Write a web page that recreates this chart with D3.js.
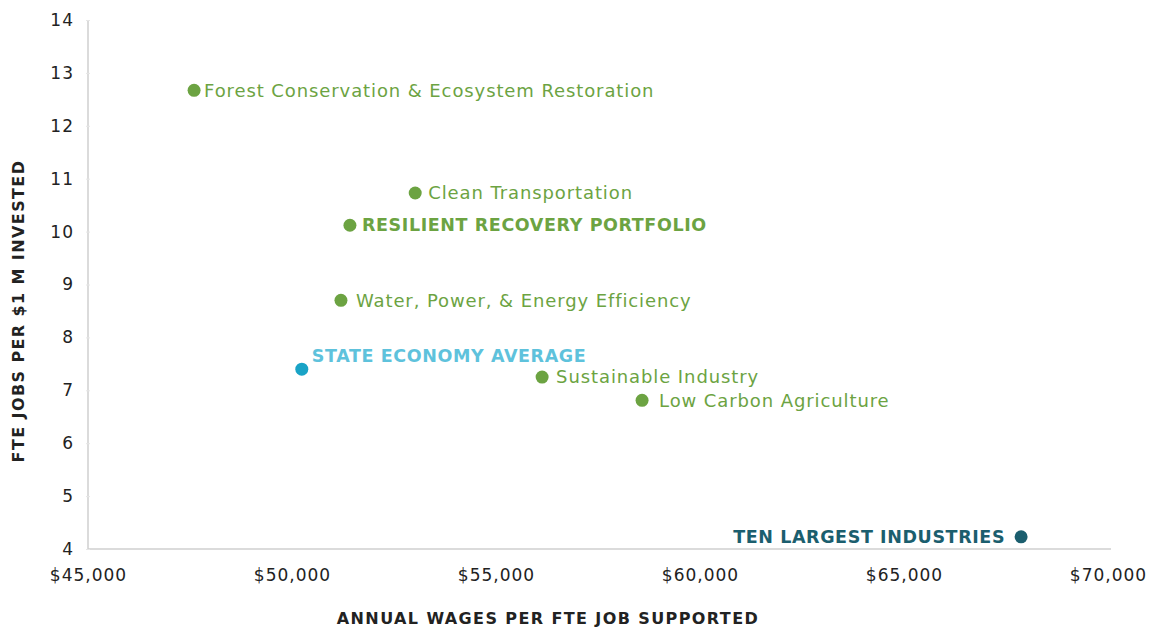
<!DOCTYPE html>
<html>
<head>
<meta charset="utf-8">
<script src="https://cdn.jsdelivr.net/npm/d3@7"></script>
<style>
    body { margin: 0; background: #fff; }
    svg text { font-family: "DejaVu Sans", "Noto Sans", sans-serif; }
    .tick text { font-size: 17px; fill: #222; letter-spacing: 1px; }
    .axis-title { font-size: 16px; font-weight: bold; fill: #222; letter-spacing: 1.4px; }
</style>
</head>
<body>
<svg id="chart" width="1151" height="629"></svg>
<script>
// data
var names = [
    "Forest Conservation & Ecosystem Restoration",
    "Clean Transportation",
    "RESILIENT RECOVERY PORTFOLIO",
    "Water, Power, & Energy Efficiency",
    "STATE ECONOMY AVERAGE",
    "Sustainable Industry",
    "Low Carbon Agriculture",
    "TEN LARGEST INDUSTRIES"
];
var wages = [47600, 53020, 51420, 51200, 50240, 56130, 58580, 67870];
var jobs = [12.67, 10.73, 10.12, 8.70, 7.40, 7.25, 6.81, 4.23];
var groups = ["sector", "sector", "portfolio", "sector", "state", "sector", "sector", "top"];
var xTicks = [45000, 50000, 55000, 60000, 65000, 70000];
var yTicks = [4, 5, 6, 7, 8, 9, 10, 11, 12, 13, 14];

var dotColor = { sector: "#6ca342", portfolio: "#6ca342", state: "#19a3c6", top: "#1b5e6e" };
var textColor = { sector: "#6ca342", portfolio: "#6ca342", state: "#5ec2dc", top: "#1b5e6e" };

// label placement relative to the dot
var labelDx = [10, 13, 12, 15, 10, 14, 17, -16];
var labelDy = [0, 0, 0, 0, -13, 0, 0, 0];

var svg = d3.select("#chart");
var margin = { top: 20, right: 40, bottom: 80, left: 88 };
var width = 1151 - margin.left - margin.right;   // 1023
var height = 629 - margin.top - margin.bottom;   // 529

var g = svg.append("g")
    .attr("transform", "translate(" + margin.left + "," + margin.top + ")");

var x = d3.scaleLinear().domain([45000, 70000]).range([0, 1020]);
var y = d3.scaleLinear().domain([4, 14]).range([height, 0]);

var data = names.map(function(d, i) {
    return { name: d, wage: wages[i], jobs: jobs[i], group: groups[i], dx: labelDx[i], dy: labelDy[i] };
});

// axes
var xAxis = g.append("g")
    .attr("class", "axis axis--x")
    .attr("transform", "translate(0," + height + ")")
    .call(d3.axisBottom(x).tickValues(xTicks).tickSize(0).tickPadding(20)
        .tickFormat(function(d) { return "$" + d3.format(",")(d); }));

xAxis.attr("font-family", null).attr("font-size", null);
xAxis.select(".domain").attr("stroke", "#cfcfcf").attr("stroke-width", 1.5)
    .attr("d", "M0,0H1023");

var yAxis = g.append("g")
    .attr("class", "axis axis--y")
    .call(d3.axisLeft(y).tickValues(yTicks).tickSize(3).tickPadding(11));

yAxis.attr("font-family", null).attr("font-size", null);
yAxis.select(".domain").attr("stroke", "#cfcfcf").attr("stroke-width", 1.5)
    .attr("d", "M0," + height + "V0");
yAxis.selectAll(".tick line").attr("stroke", "#e6e6e6").attr("x1", -2).attr("x2", 2);
yAxis.selectAll(".tick text").attr("dy", "0.32em");

// axis titles
svg.append("text")
    .attr("class", "axis-title")
    .attr("x", 548)
    .attr("y", 624)
    .attr("text-anchor", "middle")
    .text("ANNUAL WAGES PER FTE JOB SUPPORTED");

svg.append("text")
    .attr("class", "axis-title")
    .attr("transform", "translate(24,311) rotate(-90)")
    .attr("text-anchor", "middle")
    .text("FTE JOBS PER $1 M INVESTED");

// points
var points = g.append("g")
    .selectAll("g")
    .data(data)
    .enter().append("g")
    .attr("transform", function(d) {
        return "translate(" + x(d.wage) + "," + y(d.jobs) + ")";
    });

points.append("circle")
    .attr("r", 6.5)
    .attr("fill", function(d) { return dotColor[d.group]; });

points.append("text")
    .attr("x", function(d) { return d.dx; })
    .attr("y", function(d) { return d.dy; })
    .attr("dy", "0.35em")
    .attr("text-anchor", function(d) { return d.dx < 0 ? "end" : "start"; })
    .attr("fill", function(d) { return textColor[d.group]; })
    .attr("font-size", function(d) { return d.group == "sector" ? 18 : 17.5; })
    .attr("font-weight", function(d) { return d.group == "sector" ? "normal" : "bold"; })
    .attr("letter-spacing", function(d) { return d.group == "sector" ? "0.9px" : "0.6px"; })
    .text(function(d) { return d.name; });
</script>
</body>
</html>
